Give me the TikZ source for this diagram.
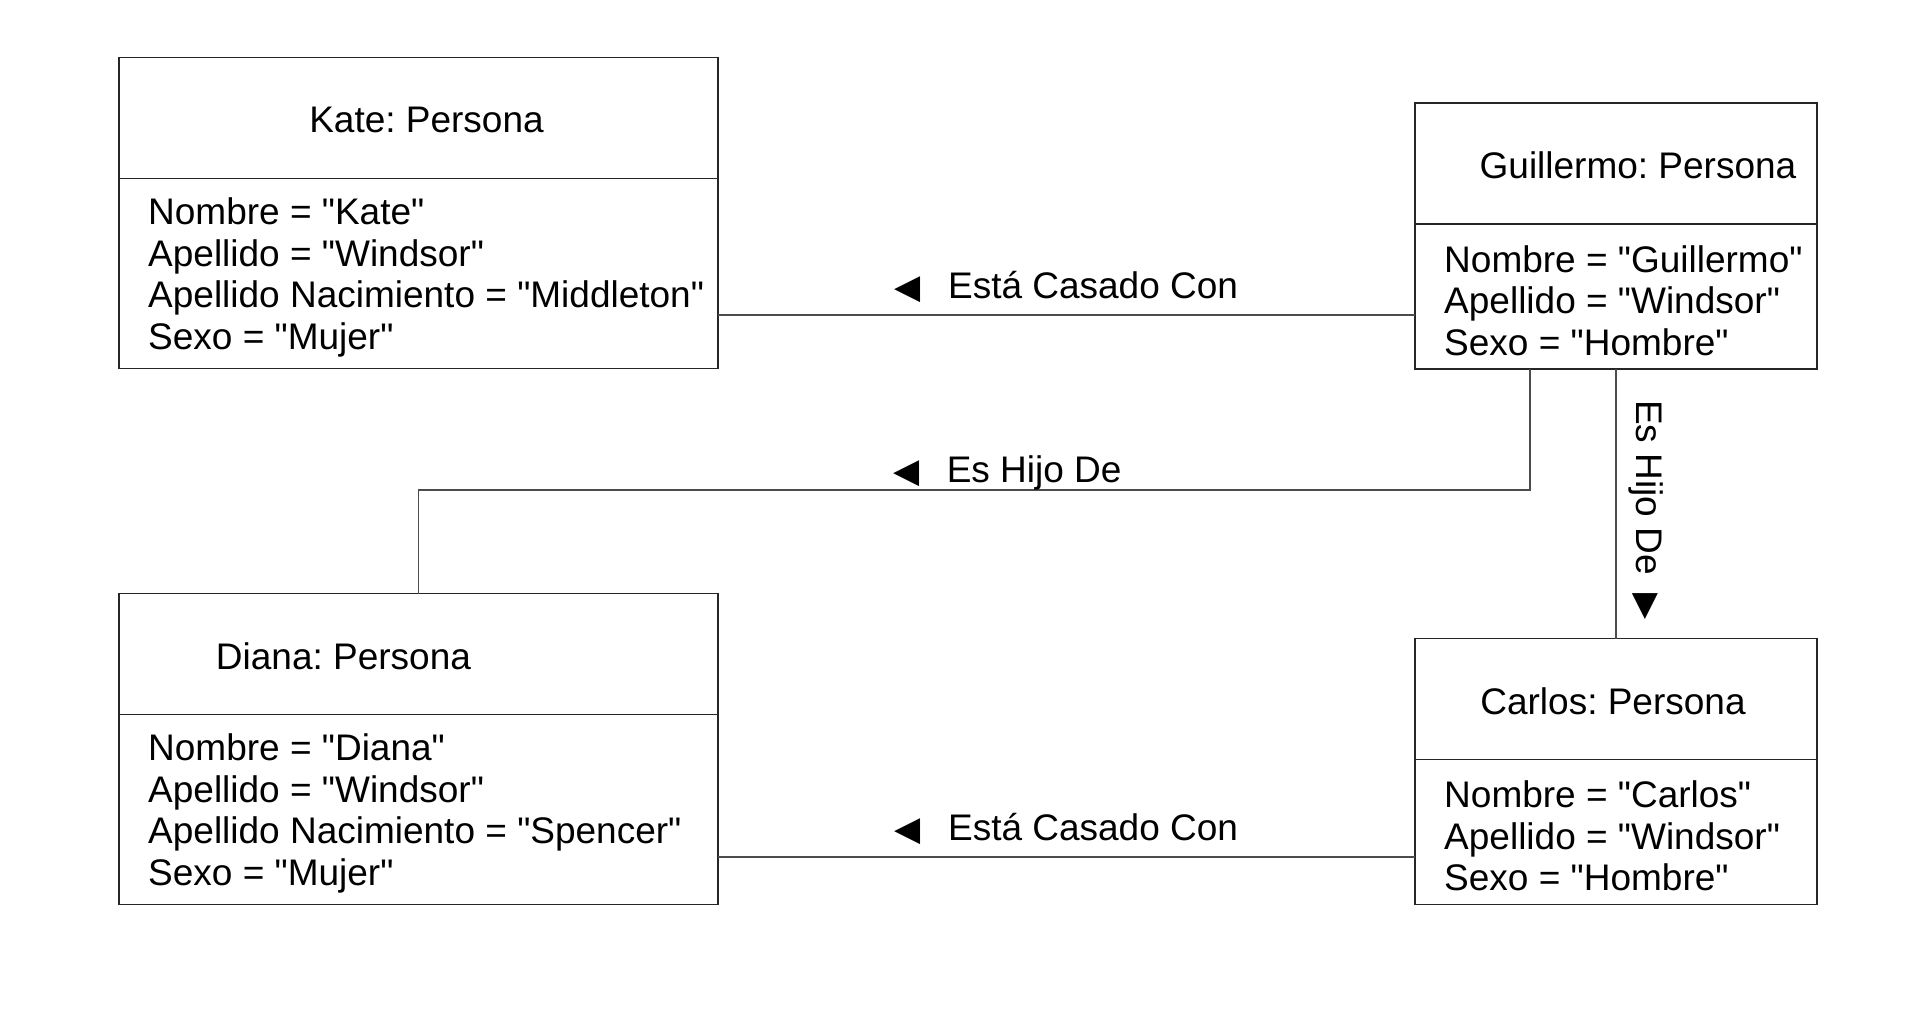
\documentclass[tikz,border=0pt]{standalone}
\usepackage{fontspec}
\setmainfont{Liberation Sans}[Ligatures=TeXOff]
\newfontfamily\symfont{DejaVu Sans}
\usetikzlibrary{positioning}
\frenchspacing

\newcommand{\lefttri}{{\fontsize{34}{34}\symfont ◀}}
\newcommand{\downtri}{{\fontsize{34}{34}\symfont ▶}}

\begin{document}
\begin{tikzpicture}[
            x=1pt, y=-1pt,
            every node/.style={font=\fontsize{37}{41.4}\selectfont},
            head/.style={
                    draw=black!85,
                    line width=1.3pt,
                    minimum height=121,
                    inner sep=0pt,
                    outer sep=0pt
                },
            body/.style={
                    draw=black!85,
                    line width=1.3pt,
                    inner sep=0pt,
                    outer sep=0pt
                },
            title/.style={
                    yshift=-2
                },
            attrs/.style={
                    anchor=west,
                    xshift=29,
                    yshift=-4,
                    align=left,
                    inner sep=0pt
                },
            conn/.style={
                    draw=black!70,
                    line width=1.3pt
                },
            rel/.style={
                    inner sep=0pt,
                    anchor=base
                }
            ]
            \useasboundingbox (0,0) rectangle (1908,1019);

            % Objetos
            \node (katehead) [head, minimum width=599, label={[title, xshift=8]center:{Kate: Persona}}] at (418.5,118) {};
            \node (kate) [body, minimum width=599, minimum height=190, below=0pt of katehead,
                label={[attrs]west:{Nombre = "Kate"\\Apellido = "Windsor"\\Apellido Nacimiento = "Middleton"\\Sexo = "Mujer"}}] {};

            \node (guillermohead) [head, minimum width=402, label={[title, xshift=22]center:{Guillermo: Persona}}] at (1616,163.5) {};
            \node (guillermo) [body, minimum width=402, minimum height=145, below=0pt of guillermohead,
                label={[attrs]west:{Nombre = "Guillermo"\\Apellido = "Windsor"\\Sexo = "Hombre"}}] {};

            \node (dianahead) [head, minimum width=599, label={[title, xshift=-75]center:{Diana: Persona}}] at (418.5,654) {};
            \node (diana) [body, minimum width=599, minimum height=190, below=0pt of dianahead,
                label={[attrs]west:{Nombre = "Diana"\\Apellido = "Windsor"\\Apellido Nacimiento = "Spencer"\\Sexo = "Mujer"}}] {};

            \node (carloshead) [head, minimum width=402, label={[title, xshift=-3]center:{Carlos: Persona}}] at (1616,699) {};
            \node (carlos) [body, minimum width=402, minimum height=145, below=0pt of carloshead,
                label={[attrs]west:{Nombre = "Carlos"\\Apellido = "Windsor"\\Sexo = "Hombre"}}] {};

            % Relaciones
            \coordinate (boda1) at (1066,315);
            \coordinate (boda2) at (1066,857);
            \coordinate (hijo) at (1530,490);

            \draw [conn] (kate.east |- boda1) -- node [rel, yshift=17] {\lefttri\hspace{27pt}Está Casado Con} (guillermo.west |- boda1);
            \draw [conn] (guillermo.south -| hijo) -- (hijo) -- node [rel, yshift=8, pos=0.47] {\lefttri\hspace{27pt}Es Hijo De} (hijo -| dianahead.north) -- (dianahead.north);
            \draw [conn] (guillermo.south) -- node [rel, rotate=-90, yshift=20, xshift=6] {Es Hijo De\hspace{18pt}\downtri} (carloshead.north);
            \draw [conn] (diana.east |- boda2) -- node [rel, yshift=17] {\lefttri\hspace{27pt}Está Casado Con} (carlos.west |- boda2);

        \end{tikzpicture}
\end{document}
